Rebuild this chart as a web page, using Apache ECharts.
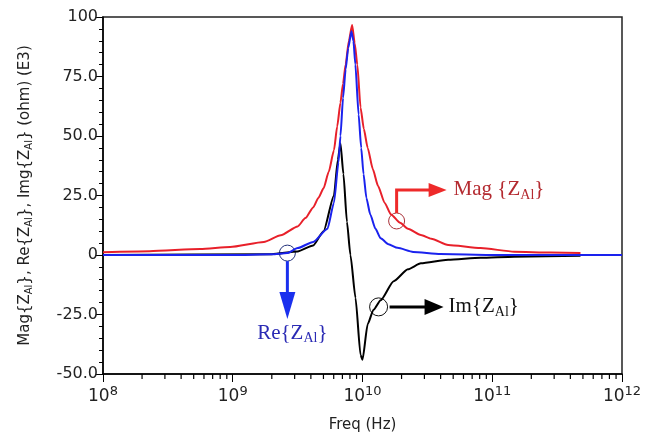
<!DOCTYPE html>
<html>
<head>
<meta charset="utf-8">
<script src="https://cdn.jsdelivr.net/npm/echarts@6/dist/echarts.min.js"></script>
<style>
  html, body { margin: 0; padding: 0; background: #fff; }
  #chart { width: 645px; height: 440px; }
</style>
</head>
<body>
<div id="chart"></div>
<script>
// 频率以 log10(Hz) 记，数值单位 ohm (E3)
const magExp = [8.0, 8.36, 8.75, 8.98, 9.24, 9.37, 9.5, 9.56, 9.62, 9.66, 9.7, 9.74, 9.78, 9.805, 9.83, 9.85, 9.87, 9.895, 9.92, 9.94, 9.96, 9.985, 10.01, 10.04, 10.08, 10.12, 10.17, 10.22, 10.29, 10.35, 10.45, 10.53, 10.66, 10.91, 11.17, 11.45, 11.68]
const magVal = [1.2, 1.6, 2.5, 3.4, 5.5, 8.3, 12, 15.5, 20, 24, 28, 35, 44, 54, 64, 72, 80, 90, 96.6, 89, 80, 62, 53, 45, 36, 29, 22, 17, 13.5, 11, 8.4, 6.8, 4.2, 2.9, 1.4, 1.0, 0.8]

const reExp = [8.0, 9.0, 9.3, 9.42, 9.5, 9.62, 9.73, 9.78, 9.815, 9.83, 9.85, 9.87, 9.89, 9.915, 9.93, 9.945, 9.97, 9.99, 10.008, 10.03, 10.06, 10.1, 10.14, 10.2, 10.27, 10.39, 10.6, 11.0, 12.0]
const reVal = [0, 0, 0.3, 0.8, 2.9, 5.5, 11, 22, 39, 50, 66, 78, 87, 94, 90, 80, 59, 45, 34, 24, 17, 11, 7, 4.5, 3, 1.3, 0.4, 0, 0]

const imExp = [8.0, 9.3, 9.5, 9.62, 9.7, 9.78, 9.81, 9.83, 9.853, 9.88, 9.907, 9.946, 9.985, 10.0, 10.04, 10.085, 10.14, 10.24, 10.35, 10.45, 10.66, 10.91, 11.17, 11.68]
const imVal = [0, 0.3, 1.5, 4, 10, 25, 40, 47, 34, 14, 0, -18, -42, -44, -29, -23, -19, -11, -6, -3.5, -2.0, -1.2, -0.7, -0.3]

// 标注圆圈所在的数据点 [log10 f, 值]
const magMark = [10.263, 14.3]
const reMark = [9.421, 0.8]
const imMark = [10.124, -21.8]

// 对数副刻度：每个十倍频内的 2..9
const decades = [8, 9, 10, 11]
const minorMults = [2, 3, 4, 5, 6, 7, 8, 9]

const Y_MIN = -50, Y_MAX = 100

const toPairs = (exps, vals) => exps.map((e, i) => [Math.pow(10, e), vals[i]])

const chart = echarts.init(document.getElementById('chart'))

const sub = { fontSize: 10, lineHeight: 10, padding: [8, 0, 0, 0], fontFamily: 'DejaVu Sans', color: '#222' }
const curve = color => ({
  type: 'line', showSymbol: false, smooth: 0.2, smoothMonotone: 'x',
  lineStyle: { color, width: 2 }
})

chart.setOption({
  animation: false,
  grid: { left: 103, right: 23, top: 17, bottom: 66, show: true, borderColor: '#222', borderWidth: 1.5 },
  xAxis: {
    type: 'log', logBase: 10, min: 1e8, max: 1e12,
    name: 'Freq (Hz)', nameLocation: 'middle', nameGap: 44,
    nameTextStyle: { fontFamily: 'DejaVu Sans', fontSize: 15, color: '#222' },
    axisLine: { onZero: false, lineStyle: { color: '#000', width: 1.5 } },
    axisTick: { length: 8, lineStyle: { color: '#000' } },
    splitLine: { show: false },
    axisLabel: {
      margin: 14,
      formatter: v => '{b|10}{s|' + Math.round(Math.log10(v)) + '}',
      rich: {
        b: { fontFamily: 'DejaVu Sans', fontSize: 17, color: '#222', lineHeight: 18 },
        s: { fontFamily: 'DejaVu Sans', fontSize: 13, color: '#222', lineHeight: 12, padding: [0, 0, 10, 0] }
      }
    }
  },
  yAxis: {
    type: 'value', min: Y_MIN, max: Y_MAX, interval: 25,
    name: 'Mag{Z{s|Al}}, Re{Z{s|Al}}, Img{Z{s|Al}} (ohm) (E3)',
    nameLocation: 'middle', nameRotate: 90, nameGap: 70,
    nameTextStyle: { fontFamily: 'DejaVu Sans', fontSize: 15, color: '#222', lineHeight: 15, rich: { s: sub } },
    axisLine: { show: true, lineStyle: { color: '#000', width: 1.5 } },
    axisTick: { length: 7, lineStyle: { color: '#000' } },
    minorTick: { show: true, splitNumber: 5, length: 4, lineStyle: { color: '#000' } },
    splitLine: { show: false },
    axisLabel: {
      margin: 5, fontFamily: 'DejaVu Sans', fontSize: 16, color: '#222',
      formatter: v => (v === 0 || v === 100) ? String(v) : v.toFixed(1)
    }
  },
  series: [
    Object.assign(curve('#e8202a'), { name: 'Mag', data: toPairs(magExp, magVal) }),
    Object.assign(curve('#000'), { name: 'Im', data: toPairs(imExp, imVal) }),
    Object.assign(curve('#1a22ee'), { name: 'Re', data: toPairs(reExp, reVal) })
  ]
})

// 标注：圆圈、箭头、文字，按圆心像素位置摆放
const px = p => chart.convertToPixel({ gridIndex: 0 }, [Math.pow(10, p[0]), p[1]])
const serif = 'Liberation Serif'
const label = (text, color, extra) => Object.assign({
  text,
  fill: color,
  font: '21px ' + serif,
  rich: { s: { fontFamily: serif, fontSize: 14, fill: color, padding: [10, 0, 0, 0] } }
}, extra)

const m = px(magMark), r = px(reMark), i = px(imMark)

const minorTickLines = []
decades.forEach(d => minorMults.forEach(k => {
  const p = chart.convertToPixel({ gridIndex: 0 }, [k * Math.pow(10, d), Y_MIN])
  minorTickLines.push({ type: 'line', silent: true, z: 10, shape: { x1: p[0], y1: p[1], x2: p[0], y2: p[1] + 5 }, style: { stroke: '#000', lineWidth: 1.2 } })
}))

chart.setOption({
  graphic: minorTickLines.concat([
    { type: 'circle', shape: { cx: m[0], cy: m[1], r: 8 }, style: { fill: 'none', stroke: '#a83038', lineWidth: 1 } },
    { type: 'polyline', shape: { points: [[m[0], m[1] - 8], [m[0], m[1] - 31], [m[0] + 34, m[1] - 31]] }, style: { stroke: '#ee2a2a', lineWidth: 3, fill: 'none' } },
    { type: 'polygon', shape: { points: [[m[0] + 32, m[1] - 38], [m[0] + 50, m[1] - 31], [m[0] + 32, m[1] - 24]] }, style: { fill: '#ee2a2a' } },
    { type: 'text', x: m[0] + 57, y: m[1] - 31, style: label('Mag {Z{s|Al}}', '#b42a30', { verticalAlign: 'middle' }) },

    { type: 'circle', shape: { cx: r[0], cy: r[1], r: 8 }, style: { fill: 'none', stroke: '#22307a', lineWidth: 1 } },
    { type: 'line', shape: { x1: r[0], y1: r[1] + 8, x2: r[0], y2: r[1] + 42 }, style: { stroke: '#1a30ee', lineWidth: 3 } },
    { type: 'polygon', shape: { points: [[r[0] - 8, r[1] + 39], [r[0] + 8, r[1] + 39], [r[0], r[1] + 66]] }, style: { fill: '#1a30ee' } },
    { type: 'text', x: r[0] + 5, y: r[1] + 80, style: label('Re{Z{s|Al}}', '#2a2ab4', { align: 'center', verticalAlign: 'middle' }) },

    { type: 'circle', shape: { cx: i[0], cy: i[1], r: 9 }, style: { fill: 'none', stroke: '#111', lineWidth: 1 } },
    { type: 'line', shape: { x1: i[0] + 11, y1: i[1], x2: i[0] + 48, y2: i[1] }, style: { stroke: '#000', lineWidth: 3 } },
    { type: 'polygon', shape: { points: [[i[0] + 46, i[1] - 8], [i[0] + 65, i[1]], [i[0] + 46, i[1] + 8]] }, style: { fill: '#000' } },
    { type: 'text', x: i[0] + 70, y: i[1], style: label('Im{Z{s|Al}}', '#111', { verticalAlign: 'middle' }) }
  ])
})
</script>
</body>
</html>
